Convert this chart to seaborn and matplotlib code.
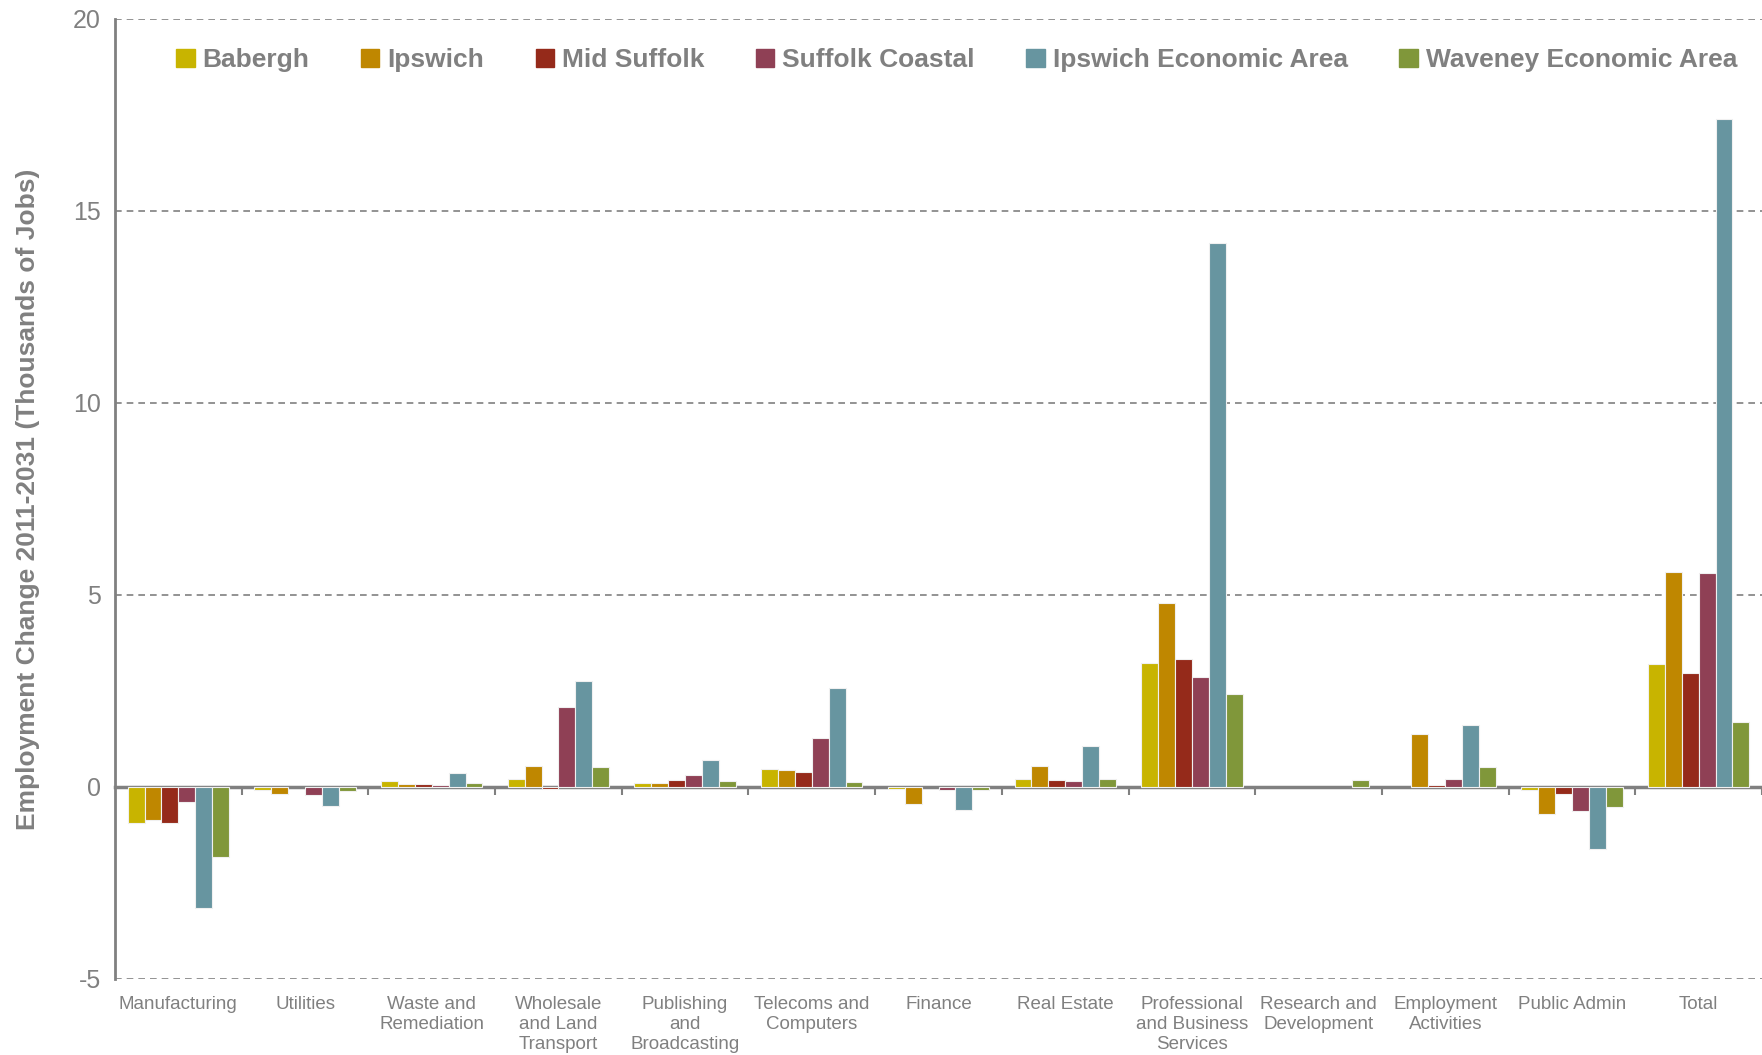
import numpy as np
import pandas as pd
import matplotlib.pyplot as plt
import matplotlib.patches as mpatches
import seaborn as sns

categories = ["Manufacturing", "Utilities", "Waste and\nRemediation", "Wholesale\nand Land\nTransport",
              "Publishing\nand\nBroadcasting", "Telecoms and\nComputers", "Finance", "Real Estate",
              "Professional\nand Business\nServices", "Research and\nDevelopment", "Employment\nActivities",
              "Public Admin", "Total"]
areas = ["Babergh", "Ipswich", "Mid Suffolk", "Suffolk Coastal", "Ipswich Economic Area", "Waveney Economic Area"]

babergh = [-0.94, -0.07, 0.15, 0.21, 0.11, 0.48, -0.05, 0.20, 3.23, 0.0, 0.0, -0.08, 3.20]
ipswich = [-0.85, -0.19, 0.08, 0.54, 0.10, 0.43, -0.44, 0.54, 4.78, 0.0, 1.37, -0.70, 5.60]
mid_suffolk = [-0.93, 0.0, 0.09, -0.05, 0.19, 0.40, 0.0, 0.18, 3.33, 0.0, 0.06, -0.19, 2.98]
suffolk_coastal = [-0.39, -0.22, 0.05, 2.08, 0.30, 1.27, -0.08, 0.15, 2.86, 0.0, 0.20, -0.62, 5.58]
ipswich_ea = [-3.14, -0.50, 0.37, 2.77, 0.70, 2.57, -0.60, 1.06, 14.17, 0.0, 1.61, -1.61, 17.39]
waveney_ea = [-1.81, -0.11, 0.10, 0.51, 0.15, 0.12, -0.08, 0.21, 2.42, 0.18, 0.51, -0.51, 1.69]

colors = ["#C8B400", "#BF8700", "#952A1A", "#8F4055", "#6795A0", "#80973A"]
grey = "#808080"

series = [babergh, ipswich, mid_suffolk, suffolk_coastal, ipswich_ea, waveney_ea]
rows = []
for area, vals in zip(areas, series):
    for cat, v in zip(categories, vals):
        rows.append({"Sector": cat, "Area": area, "Change": v})
df = pd.DataFrame(rows)

sns.set_style("white")
plt.rcParams['font.family'] = ['Liberation Sans', 'DejaVu Sans']
plt.rcParams['axes.unicode_minus'] = False

fig = plt.figure(figsize=(17.62, 10.55), dpi=100)
ax = fig.add_axes([115 / 1762, 1 - 979 / 1055, 1 - 115 / 1762, 960 / 1055])

sns.barplot(data=df, x="Sector", y="Change", hue="Area", hue_order=areas, order=categories,
            palette=colors, saturation=1, width=0.8, edgecolor="#f0f0f0", linewidth=0.8,
            legend=False, ax=ax)

# hide empty bars so they don't leave an outline on the zero line
for p in ax.patches:
    if p.get_height() == 0:
        p.set_visible(False)

ax.set_ylim(-5, 20)
ax.set_xlim(-0.5, 12.5)
ax.set_yticks([-5, 0, 5, 10, 15, 20])
for y in [-5, 5, 10, 15, 20]:
    ax.axhline(y, color=grey, lw=1.2, ls=(0, (4, 3)), zorder=0)

for s in ["top", "right", "bottom"]:
    ax.spines[s].set_visible(False)
ax.spines["left"].set_color(grey)
ax.spines["left"].set_linewidth(2)

ax.tick_params(axis="y", colors=grey, labelsize=18, length=6, width=1.2, direction="out", pad=4)
ax.tick_params(axis="x", colors=grey, labelsize=13.5, length=0, pad=12)
for lab in ax.get_xticklabels():
    lab.set_linespacing(1.25)

# zero line with separators between sectors
sec = ax.secondary_xaxis(0.2)
sec.set_xticks(np.arange(13) + 0.5)
sec.set_xticklabels([])
sec.spines["bottom"].set_color(grey)
sec.spines["bottom"].set_linewidth(2.5)
sec.tick_params(axis="x", colors=grey, length=6, width=1.5, direction="out")

ax.set_xlabel("")
ax.set_ylabel("Employment Change 2011-2031 (Thousands of Jobs)", color=grey, fontsize=19,
              fontweight="bold", labelpad=24)

handles = [mpatches.Patch(color=c) for c in colors]
leg = ax.legend(handles, areas, loc="center", bbox_to_anchor=(0.511, 0.957), ncol=6, frameon=False,
                handlelength=0.7, handleheight=0.7, handletextpad=0.3, columnspacing=1.95,
                prop={"size": 19, "weight": "bold"})
for t in leg.get_texts():
    t.set_color(grey)

fig.savefig("out.png", dpi=100)
